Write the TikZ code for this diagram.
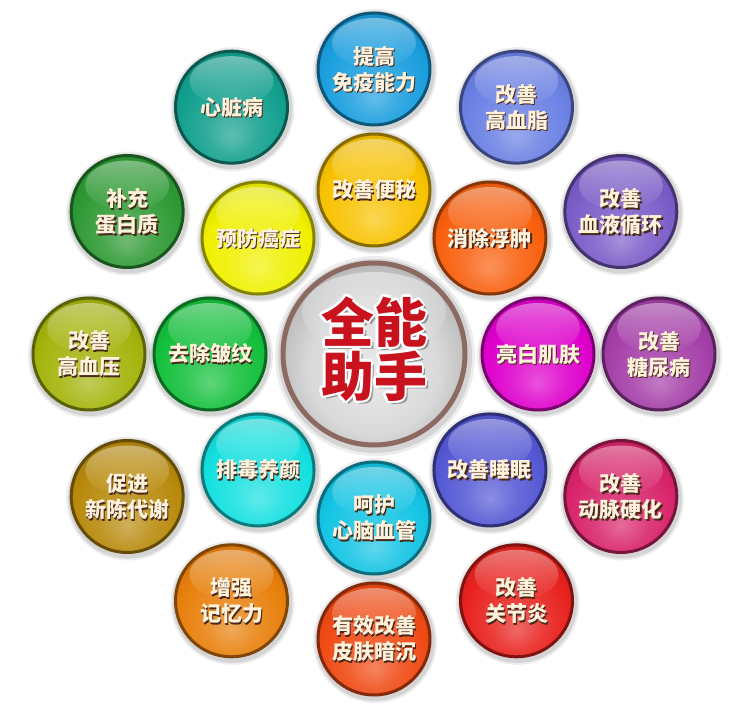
\documentclass[tikz,border=0pt]{standalone}
\usepackage{fontspec}
\newfontfamily\cjk{Noto Sans CJK SC}
\usetikzlibrary{calc,fadings}

\definecolor{txtcream}{HTML}{FFF2DC}
\definecolor{txtshadow}{HTML}{4A2818}
\definecolor{bigred}{HTML}{C8121E}
\definecolor{bigrim}{HTML}{8C6A62}
\colorlet{ballc}{blue}

\pgfdeclareradialshading[ballc]{ballglow}{\pgfpoint{0bp}{-13bp}}{%
  color(0bp)=(ballc!68!white); color(12bp)=(ballc!88!white);
  color(24bp)=(ballc); color(34bp)=(ballc!88!black); color(60bp)=(ballc!75!black)}
\pgfdeclareradialshading{silverglow}{\pgfpoint{0bp}{-6bp}}{%
  color(0bp)=(white!92!black); color(18bp)=(white!85!black);
  color(28bp)=(white!72!black); color(60bp)=(white!64!black)}

\tikzset{
  ballnode/.style={circle, minimum size=112pt, inner sep=0pt, shade, shading=ballglow,
    draw=ballc!55!black, line width=3pt},
  bignode/.style={circle, minimum size=182pt, inner sep=0pt, shade, shading=silverglow,
    draw=bigrim, line width=5pt},
  balltxt/.style={font=\cjk\bfseries\fontsize{21}{26}\selectfont, text=txtcream,
    align=center, inner sep=0pt},
  bigtxt/.style={font=\cjk\bfseries\fontsize{53}{54}\selectfont,
    align=center, inner sep=0pt},
}

\newcommand\ball[5]{%
  \definecolor{ballc}{HTML}{#4}%
  \coordinate (#1-c) at ($(C)+(#2:#3)$);
  \fill[black,opacity=.07] ($(#1-c)+(1,-2)$) circle (62);
  \fill[black,opacity=.10] ($(#1-c)+(1,-2)$) circle (60);
  \node[ballnode] (#1) at (#1-c) {};
  \fill[white,path fading=south,fill opacity=.4] ($(#1)+(0,26)$) ellipse (42 and 25);
  \node[balltxt, text=txtshadow] (#1-s) at ($(#1)+(1.4,-1.7)$) {#5};
  \node[balltxt] (#1-t) at (#1) {#5};
}

\begin{document}
\begin{tikzpicture}[x=1pt,y=1pt]
\useasboundingbox[fill=white] (0,0) rectangle (750,724);
\coordinate (C) at (374,370);

% outer ring
\ball{tigao}{90}{285}{1A9EDE}{提高\\免疫能力}
\ball{gaoxuezhi}{60}{285}{6A80E4}{改善\\高血脂}
\ball{xunhuan}{30}{285}{7B5CC8}{改善\\血液循环}
\ball{tangniao}{0}{285}{A43EA8}{改善\\糖尿病}
\ball{dongmai}{-30}{285}{D8246A}{改善\\动脉硬化}
\ball{guanjie}{-60}{285}{E8221E}{改善\\关节炎}
\ball{anchen}{-90}{285}{F04A14}{有效改善\\皮肤暗沉}
\ball{jiyi}{-120}{285}{E8800C}{增强\\记忆力}
\ball{xinchen}{-150}{285}{B88A0C}{促进\\新陈代谢}
\ball{gaoxueya}{180}{285}{A4B40C}{改善\\高血压}
\ball{danbai}{150}{285}{2E9A34}{补充\\蛋白质}
\ball{xinzang}{120}{285}{12A08E}{心脏病}

% inner ring
\ball{bianmi}{90}{164}{F8C200}{改善便秘}
\ball{fuzhong}{45}{164}{F8600E}{消除浮肿}
\ball{liangbai}{0}{164}{DE00CC}{亮白肌肤}
\ball{shuimian}{-45}{164}{5458D4}{改善睡眠}
\ball{xinnao}{-90}{164}{14C4E4}{呵护\\心脑血管}
\ball{paidu}{-135}{164}{14E0E0}{排毒养颜}
\ball{zhouwen}{180}{164}{14C03C}{去除皱纹}
\ball{aizheng}{135}{164}{F0F000}{预防癌症}

% centre
\fill[black,opacity=.07] ($(C)+(1,-2)$) circle (100);
\fill[black,opacity=.10] ($(C)+(1,-2)$) circle (97);
\node[bignode] (hub) at (C) {};
\fill[white,path fading=south,fill opacity=.45] ($(hub)+(0,42)$) ellipse (72 and 40);
\node[bigtxt, text=black, opacity=.35] (hub-s) at ($(C)+(3,2)$) {全能\\助手};
\foreach \a in {0,45,...,315}{
  \node[bigtxt, text=white] (hub-o\a) at ($(C)+(0,5)+(\a:2.4)$) {全能\\助手};
}
\node[bigtxt, text=bigred] (hub-t) at ($(C)+(0,5)$) {全能\\助手};
\end{tikzpicture}
\end{document}
